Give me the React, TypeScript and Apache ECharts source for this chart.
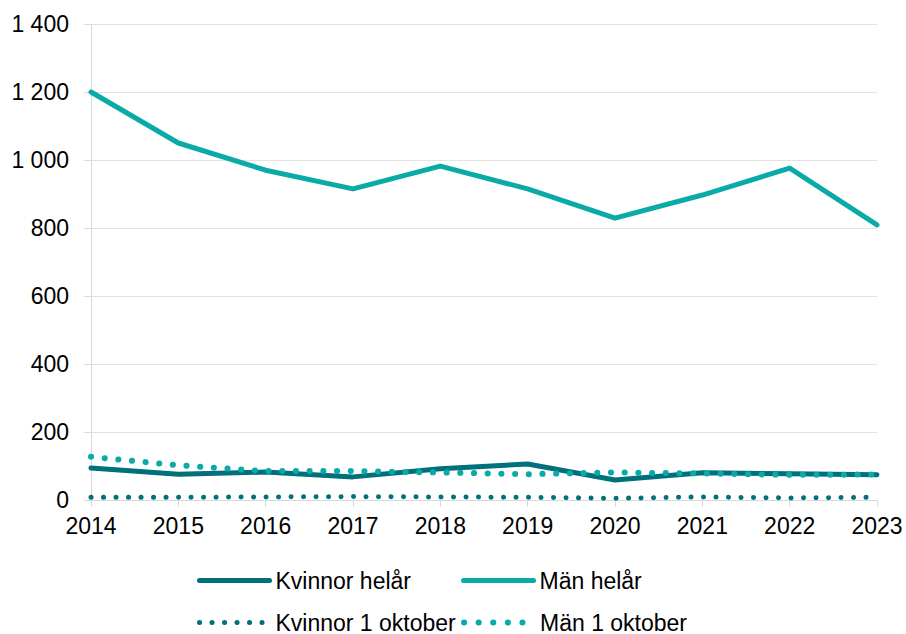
import React, { useEffect, useRef } from "react";
import * as echarts from "echarts";

const years = ["2014", "2015", "2016", "2017", "2018", "2019", "2020", "2021", "2022", "2023"];
const kvinnorHelar = [94, 76, 82, 68, 92, 106, 59, 80, 77, 74];
const manHelar = [1200, 1050, 970, 915, 982, 915, 829, 897, 976, 809];
const kvinnor1okt = [8, 8, 9, 10, 9, 8, 5, 9, 6, 8];
const man1okt = [127, 102, 85, 85, 81, 76, 81, 78, 74, 75];

const DARK = "#00707a";
const LIGHT = "#0aaaa8";
const FONT = "Liberation Sans, Arial, sans-serif";

const fmt = (v: number) => {
  const s = String(v);
  return s.length > 3 ? s.slice(0, s.length - 3) + " " + s.slice(s.length - 3) : s;
};

const solid = { width: 5, cap: "round", type: "solid" };
const dotsDark = { width: 5, cap: "round", type: [0.1, 12.4] };
const dotsLight = { width: 6, cap: "round", type: [0.1, 13.6] };
const dotsLightLegend = { width: 6, cap: "round", type: [0.1, 14.5] };

export default function App() {
  const ref = useRef<HTMLDivElement>(null);
  useEffect(() => {
    if (!ref.current) return;
    const chart = echarts.init(ref.current, null, { renderer: "svg" });
    const legendBase = {
      orient: "horizontal",
      padding: 0,
      itemWidth: 70,
      itemHeight: 20,
      itemGap: 5,
      textStyle: { fontSize: 23, color: "#000", fontFamily: FONT, padding: [0, 0, 0, 1] },
      selectedMode: false,
      itemStyle: { opacity: 0 },
    };
    const item = (name: string, color: string, ls: any) => ({
      name,
      itemStyle: { opacity: 0 },
      lineStyle: { ...ls, color, opacity: 1 },
    });
    chart.setOption({
      animation: false,
      backgroundColor: "#fff",
      grid: { left: 91, right: 29, top: 24, bottom: 134, containLabel: false },
      legend: [
        { ...legendBase, data: [item("Kvinnor helår", DARK, solid)], left: 197, top: 569 },
        { ...legendBase, data: [item("Män helår", LIGHT, solid)], left: 461, top: 569 },
        { ...legendBase, data: [item("Kvinnor 1 oktober", DARK, dotsDark)], left: 197, top: 611 },
        { ...legendBase, data: [item("Män 1 oktober", LIGHT, dotsLightLegend)], left: 461, top: 611 },
      ],
      xAxis: {
        type: "category",
        data: years,
        boundaryGap: false,
        axisLine: { show: true, lineStyle: { color: "#d9d9d9", width: 1 } },
        axisTick: { show: true, length: 7, lineStyle: { color: "#d9d9d9" } },
        axisLabel: { fontSize: 23, color: "#000", fontFamily: FONT, margin: 14 },
        splitLine: { show: false },
      },
      yAxis: {
        type: "value",
        min: 0,
        max: 1400,
        interval: 200,
        axisLine: { show: true, lineStyle: { color: "#d9d9d9", width: 1 } },
        axisTick: { show: true, length: 7, lineStyle: { color: "#d9d9d9" } },
        axisLabel: { fontSize: 23, color: "#000", fontFamily: FONT, margin: 22, formatter: fmt },
        splitLine: { show: true, lineStyle: { color: "#e3e3e3", width: 1 } },
      },
      series: [
        {
          name: "Kvinnor helår",
          type: "line",
          data: kvinnorHelar,
          symbol: "none",
          color: DARK,
          lineStyle: { ...solid, color: DARK, join: "round" },
        },
        {
          name: "Män helår",
          type: "line",
          data: manHelar,
          symbol: "none",
          color: LIGHT,
          lineStyle: { ...solid, color: LIGHT, join: "round" },
        },
        {
          name: "Kvinnor 1 oktober",
          type: "line",
          data: kvinnor1okt,
          symbol: "none",
          color: DARK,
          lineStyle: { ...dotsDark, color: DARK },
        },
        {
          name: "Män 1 oktober",
          type: "line",
          data: man1okt,
          symbol: "none",
          color: LIGHT,
          lineStyle: { ...dotsLight, color: LIGHT },
        },
      ],
    });
    return () => chart.dispose();
  }, []);
  return <div ref={ref} style={{ width: 906, height: 634, position: "absolute", left: 0, top: 0 }} />;
}
